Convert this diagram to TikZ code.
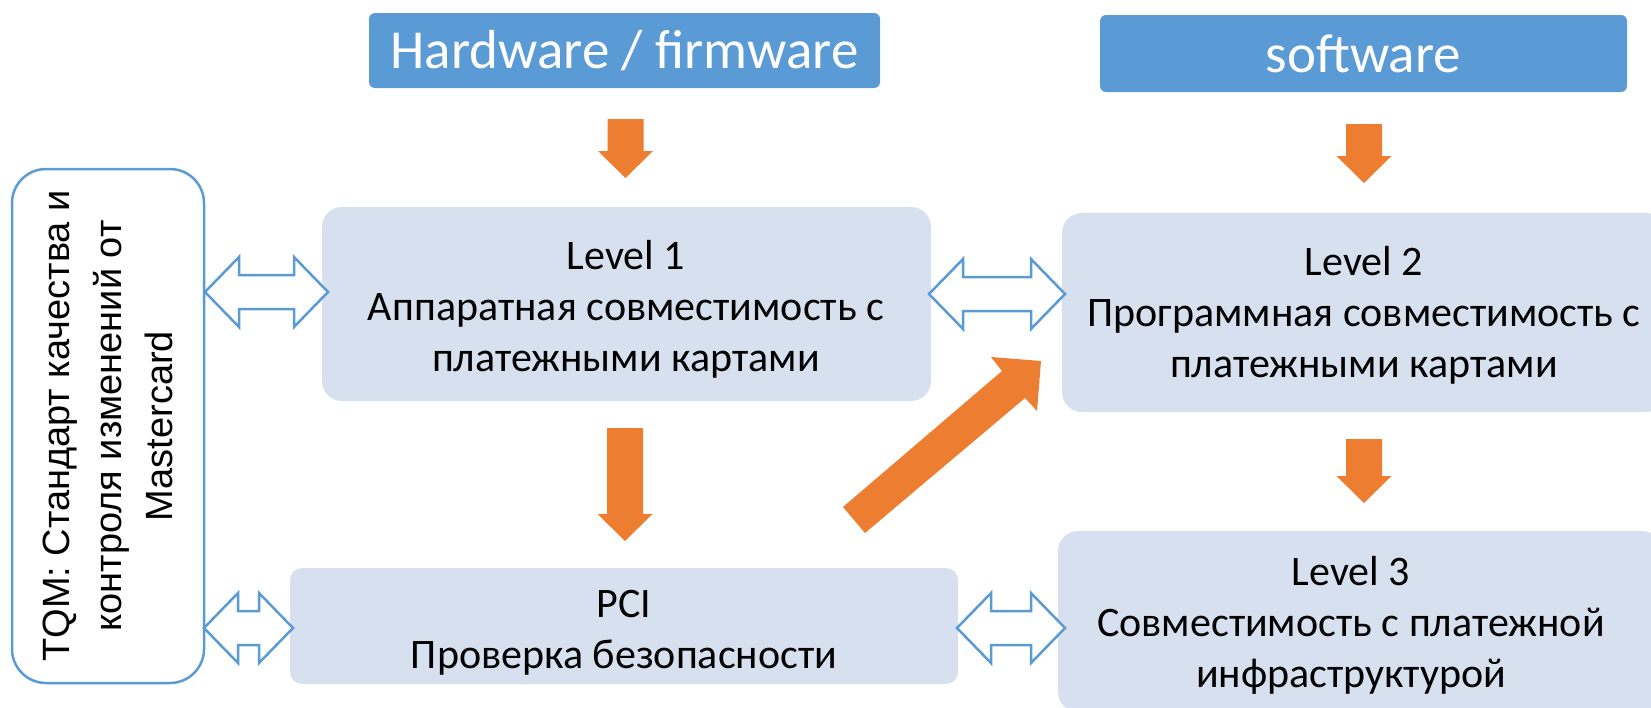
\documentclass[tikz,border=0pt]{standalone}
\usepackage{fontspec}
\setmainfont{Carlito}
\newfontfamily\arialf{Liberation Sans}
\definecolor{hdrblue}{HTML}{5B9BD5}
\definecolor{lvlfill}{RGB}{215,224,238}
\definecolor{orng}{HTML}{ED7D31}
\tikzset{
  hdrbox/.style={fill=hdrblue, rounded corners=6pt, text=white, inner sep=0pt,
    font=\fontsize{55}{66}\selectfont},
  lvlbox/.style={fill=lvlfill, rounded corners=20pt, inner sep=0pt},
  lvltext/.style={align=center, inner sep=0pt, font=\fontsize{42}{51}\selectfont},
  tqmbox/.style={draw=hdrblue, line width=2.5pt, fill=white, rounded corners=34pt,
    align=center, inner sep=0pt, font=\arialf\fontsize{38}{51.5}\selectfont},
  dblline/.style={draw=hdrblue, line width=2.5pt, fill=white, line join=miter},
  orfill/.style={fill=orng},
  pics/dblarr/.style={code={
    \path[dblline] (0,0) -- (34,-35) -- (34,-17) -- (#1-34,-17) -- (#1-34,-35)
      -- (#1,0) -- (#1-34,35) -- (#1-34,17) -- (34,17) -- (34,35) -- cycle;}},
  pics/downarr/.style={code={
    \path[orfill] (-18,0) -- (18,0) -- (18,#1-27) -- (27.5,#1-27) -- (0,#1)
      -- (-27.5,#1-27) -- (-18,#1-27) -- cycle;}}
}
\begin{document}
\begin{tikzpicture}[x=1pt, y=-1pt]
\useasboundingbox (0,0) rectangle (1651,707);
\clip (0,0) rectangle (1651,707);
% headers
\node[hdrbox, minimum width=511pt, minimum height=75pt] (hw) at (624.5,50.5) {Hardware / firmware};
\node[hdrbox, minimum width=527pt, minimum height=77pt] (sw) at (1363.5,53.5) {software};
% TQM box
\node[tqmbox, rotate=90, minimum width=514pt, minimum height=192pt] (tqm) at (108,426)
  {TQM: Стандарт качества и\\контроля изменений от\\Mastercard};
% level boxes
\node[lvlbox, minimum width=609pt, minimum height=194pt] (l1) at (626.5,304) {};
\node[lvltext] (l1t) at (626,309)
  {Level 1\\Аппаратная совместимость с\\платежными картами};
\node[lvlbox, minimum width=604pt, minimum height=199pt] (l2) at (1364,312.5) {};
\node[lvltext] (l2t) at (1364,315.5)
  {Level 2\\Программная совместимость с\\платежными картами};
\node[lvlbox, rounded corners=12pt, minimum width=668pt, minimum height=116pt] (pci) at (624,626) {};
\node[lvltext] (pcit) at (624,633)
  {PCI\\Проверка безопасности};
\node[lvlbox, minimum width=604pt, minimum height=181pt] (l3) at (1360,621.5) {};
\node[lvltext] (l3t) at (1351,625)
  {Level 3\\Совместимость с платежной\\инфраструктурой};
% hollow double arrows
\pic at (205,292) {dblarr=123};
\pic at (929,294) {dblarr=136};
\pic at (204,628) {dblarr=89};
\pic at (957,628) {dblarr=108};
% orange arrows
\pic at (625.5,119) {downarr=59};
\pic at (625,428) {downarr=113};
\pic at (1364,124) {downarr=59};
\pic at (1364,439) {downarr=64};
\path[orfill] (843,507) -- (1002,371) -- (991,357) -- (1041,361) -- (1037,411)
  -- (1025,398) -- (865,533) -- cycle;
\end{tikzpicture}
\end{document}
